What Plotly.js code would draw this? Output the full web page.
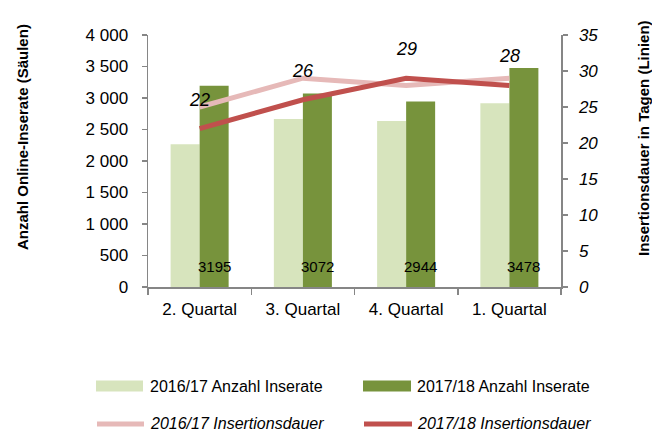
<!DOCTYPE html>
<html>
<head>
<meta charset="utf-8">
<script src="https://cdn.plot.ly/plotly-3.0.1.min.js"></script>
<style>html,body{margin:0;padding:0;background:#fff;}#chart{width:652px;height:434px;}</style>
</head>
<body>
<div id="chart"></div>
<script>
// ---- data ----
const categories = ["2. Quartal", "3. Quartal", "4. Quartal", "1. Quartal"];
const inserate1617 = [2265, 2665, 2635, 2915];
const inserate1718 = [3195, 3072, 2944, 3478];
const dauer1617 = [25, 29, 28, 29];
const dauer1718 = [22, 26, 29, 28];
const seriesNames = ["2016/17 Anzahl Inserate", "2017/18 Anzahl Inserate", "2016/17 Insertionsdauer", "2017/18 Insertionsdauer"];
const leftTitle = "Anzahl Online-Inserate (Säulen)";
const rightTitle = "Insertionsdauer in Tagen (Linien)";

// ---- styles ----
const C_LIGHT = "#D7E4BD", C_DARK = "#77933C", C_PINK = "#E6B9B8", C_RED = "#C0504D";
const AXIS = "#868686";
const FONT = "Liberation Sans, Arial, sans-serif";
const L = 148, R = 561, T = 35, B = 287, W = 652, H = 434;
const px = x => (x - L) / (R - L);
const py = y => (B - y) / (B - T);

const traces = [
  {type: "bar", x: categories, y: inserate1617, name: seriesNames[0], marker: {color: C_LIGHT}, yaxis: "y", hoverinfo: "none"},
  {type: "bar", x: categories, y: inserate1718, name: seriesNames[1], marker: {color: C_DARK}, yaxis: "y", hoverinfo: "none"},
  {type: "scatter", mode: "lines", x: categories, y: dauer1617, name: seriesNames[2], line: {color: C_PINK, width: 5}, yaxis: "y2", hoverinfo: "none"},
  {type: "scatter", mode: "lines", x: categories, y: dauer1718, name: seriesNames[3], line: {color: C_RED, width: 5}, yaxis: "y2", hoverinfo: "none"}
];

const annotations = [];
categories.forEach((c, i) => {
  annotations.push({x: c, y: 0, xref: "x", yref: "y", text: String(inserate1718[i]), showarrow: false,
    xshift: 14.5, yshift: 21, font: {family: FONT, size: 15, color: "#000"}});
  annotations.push({x: c, y: dauer1718[i], xref: "x", yref: "y2", text: String(dauer1718[i]), showarrow: false,
    yshift: 29, font: {family: FONT, size: 18, color: "#000", style: "italic"}});
});
annotations.push({x: px(22), y: py(137), xref: "paper", yref: "paper", text: leftTitle, textangle: -90, showarrow: false,
  xanchor: "center", yanchor: "middle", font: {family: FONT, size: 15, weight: "bold", color: "#000"}});
annotations.push({x: px(643), y: py(138), xref: "paper", yref: "paper", text: rightTitle, textangle: -90, showarrow: false,
  xanchor: "center", yanchor: "middle", font: {family: FONT, size: 15, weight: "bold", color: "#000"}});

// custom legend
const legendCols = [[96, 143, 148], [363, 411, 415]];
const legendRows = [386, 424];
const shapes = [];
const legendColors = [C_LIGHT, C_DARK, C_PINK, C_RED];
seriesNames.forEach((n, k) => {
  const col = legendCols[k % 2], row = legendRows[Math.floor(k / 2)];
  if (k < 2) {
    shapes.push({type: "rect", xref: "paper", yref: "paper", x0: px(col[0]), x1: px(col[1]), y0: py(row - 5.5), y1: py(row + 5.5),
      fillcolor: legendColors[k], line: {width: 0}});
  } else {
    shapes.push({type: "line", xref: "paper", yref: "paper", x0: px(col[0] + 1), x1: px(col[1] + 1), y0: py(row), y1: py(row),
      line: {color: legendColors[k], width: 5}});
  }
  annotations.push({x: px(col[2]), y: py(row), xref: "paper", yref: "paper", text: n, showarrow: false,
    xanchor: "left", yanchor: "middle",
    font: {family: FONT, size: 16, color: "#000", style: k < 2 ? "normal" : "italic"}});
});

const layout = {
  width: W, height: H,
  margin: {l: L, r: W - R, t: T, b: H - B, pad: 0},
  paper_bgcolor: "#fff", plot_bgcolor: "#fff",
  showlegend: false,
  barmode: "group", bargap: 0.438, bargroupgap: 0,
  separators: ", ",
  font: {family: FONT, color: "#000"},
  xaxis: {type: "category", range: [-0.5, 3.5], showline: true, linecolor: AXIS, linewidth: 1.5,
    ticks: "outside", tickson: "boundaries", ticklen: 6, tickcolor: AXIS, tickwidth: 1.5,
    showgrid: false, zeroline: false, tickfont: {family: FONT, size: 17, color: "#000"}, ticklabelstandoff: 6},
  yaxis: {range: [0, 4000], dtick: 500, tick0: 0, separatethousands: true, tickformat: ",d",
    showline: true, linecolor: AXIS, linewidth: 1.5, ticks: "outside", ticklen: 5, tickcolor: AXIS, tickwidth: 1.5,
    showgrid: false, zeroline: false, tickfont: {family: FONT, size: 17, color: "#000"}, ticklabelstandoff: 10},
  yaxis2: {range: [0, 35], dtick: 5, tick0: 0, overlaying: "y", side: "right",
    showline: true, linecolor: AXIS, linewidth: 1.5, ticks: "outside", ticklen: 5, tickcolor: AXIS, tickwidth: 1.5,
    showgrid: false, zeroline: false, tickfont: {family: FONT, size: 17, color: "#000", style: "italic"}, ticklabelstandoff: 8},
  annotations: annotations,
  shapes: shapes
};

Plotly.newPlot("chart", traces, layout, {staticPlot: true, displayModeBar: false});
</script>
</body>
</html>
